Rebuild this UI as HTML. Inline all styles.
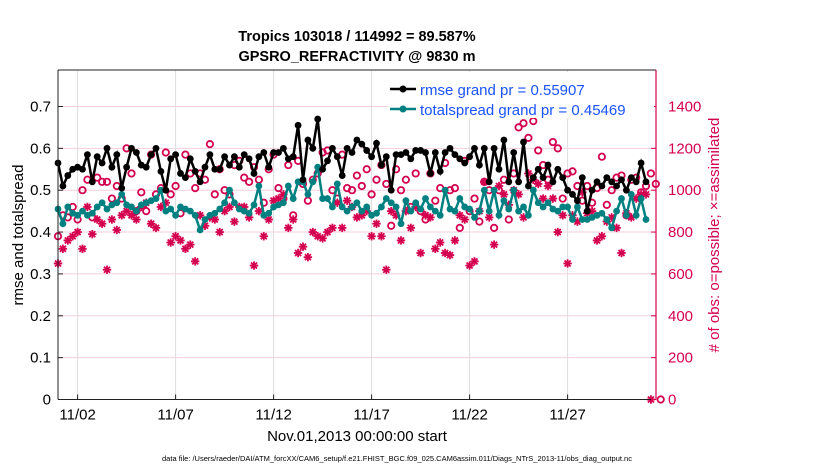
<!DOCTYPE html>
<html><head><meta charset="utf-8"><style>
body{margin:0;background:#fff;}
svg{display:block;font-family:"Liberation Sans",sans-serif;}
</style></head><body>
<svg id="chart" width="830" height="470" viewBox="0 0 830 470">
<text x="357" y="41" text-anchor="middle" font-size="14.5" font-weight="bold">Tropics 103018 / 114992 = 89.587%</text>
<text x="357" y="61" text-anchor="middle" font-size="14.5" font-weight="bold">GPSRO_REFRACTIVITY @ 9830 m</text>
<text transform="translate(23,235) rotate(-90)" text-anchor="middle" font-size="15">rmse and totalspread</text>
<text transform="translate(719,235) rotate(-90)" text-anchor="middle" font-size="15" fill="#d4004f"># of obs: o=possible; ×=assimilated</text>
<text x="357" y="441" text-anchor="middle" font-size="15">Nov.01,2013 00:00:00 start</text>
<text x="397" y="461" text-anchor="middle" font-size="7.5">data file: /Users/raeder/DAI/ATM_forcXX/CAM6_setup/f.e21.FHIST_BGC.f09_025.CAM6assim.011/Diags_NTrS_2013-11/obs_diag_output.nc</text>
<g id="grid"></g><g id="marks"></g><g id="axes"></g>
<g>
<rect x="388" y="72" width="266" height="46" fill="#fff"/>
<line x1="390" y1="89" x2="416" y2="89" stroke="#000" stroke-width="2.5"/><circle cx="403" cy="89" r="3.5" fill="#000"/>
<text x="420" y="95" font-size="15" fill="#1a53ff">rmse grand pr = 0.55907</text>
<line x1="390" y1="109" x2="416" y2="109" stroke="#008080" stroke-width="2.5"/><circle cx="403" cy="109" r="3.5" fill="#008080"/>
<text x="420" y="115" font-size="15" fill="#1a53ff">totalspread grand pr = 0.45469</text>
</g>
</svg>
<script>
const rmse=[0.565,0.51,0.535,0.55,0.555,0.55,0.585,0.52,0.58,0.565,
0.6,0.555,0.585,0.505,0.555,0.6,0.59,0.56,0.555,0.585,
0.6,0.545,0.5,0.575,0.585,0.54,0.53,0.575,0.545,0.52,
0.555,0.585,0.55,0.55,0.58,0.56,0.58,0.555,0.585,0.575,
0.54,0.58,0.59,0.555,0.59,0.59,0.6,0.575,0.58,0.655,
0.525,0.62,0.6,0.67,0.55,0.57,0.6,0.58,0.535,0.6,
0.59,0.62,
0.61,0.595,0.58,0.612,0.56,0.58,0.5,0.585,
0.585,0.59,0.575,0.595,0.595,0.59,0.54,0.59,0.545,0.59,
0.6,0.585,0.575,0.565,0.58,0.6,0.56,0.6,0.52,0.6,
0.55,0.62,0.52,0.59,0.52,0.615,0.51,0.53,0.55,0.53,
0.56,0.52,0.55,0.53,0.5,0.49,0.475,0.53,0.45,0.5,
0.52,0.51,0.53,0.52,0.51,0.525,0.5,0.53,0.52,0.565,0.52];
const spread=[0.455,0.42,0.46,0.445,0.44,0.45,0.44,0.445,0.46,0.47,
0.455,0.465,0.47,0.49,0.465,0.46,0.45,0.465,0.47,0.475,
0.48,0.5,0.45,0.455,0.44,0.46,0.455,0.45,0.44,0.405,
0.43,0.44,0.445,0.455,0.47,0.5,0.47,0.455,0.45,0.445,
0.465,0.51,0.44,0.445,0.46,0.465,0.47,0.51,0.48,0.52,
0.52,0.49,0.52,0.555,0.48,0.48,0.46,0.515,0.46,0.45,
0.46,0.47,
0.45,0.46,0.44,0.445,0.46,0.48,0.47,0.46,
0.42,0.475,0.45,0.47,0.455,0.48,0.46,0.45,0.44,0.5,
0.455,0.45,0.48,0.46,0.455,0.435,0.45,0.5,0.45,0.5,
0.44,0.475,0.455,0.5,0.45,0.46,0.44,0.5,0.47,0.46,
0.47,0.455,0.45,0.46,0.46,0.43,0.46,0.43,0.43,0.435,
0.44,0.445,0.43,0.41,0.45,0.48,0.44,0.49,0.44,0.48,0.43];
const possible=[780,880,870,920,860,1000,1050,870,1060,1040,
1040,960,1020,960,1200,1080,900,990,900,1170,
980,1010,1180,980,1020,890,1170,1080,1010,1080,
1050,1220,980,1100,1000,980,1120,1140,1060,1040,
1110,1050,940,1100,1170,1010,960,1120,880,1140,
1030,950,1050,1080,1180,1190,1000,960,1170,1010,
1000,1070,
1020,1100,980,1050,1120,1030,830,1100,
1000,1050,920,1080,900,860,1080,950,1010,1130,1000,1010,
820,1140,900,960,850,1040,1000,820,1000,1050,
860,1080,1300,1320,1250,1330,1190,1120,1050,1230,
1200,960,1080,1090,1020,950,1020,940,1010,1160,
930,1000,1060,1070,880,1050,1060,990,1020,1080,1030,0];
const assimilated=[650,720,760,780,800,720,920,790,860,840,
620,860,810,880,900,880,860,920,940,840,
820,920,940,750,780,760,720,740,660,880,
830,870,860,800,900,920,850,920,920,870,
640,900,780,860,950,960,980,820,860,700,
730,680,800,780,770,800,820,940,820,950,
920,870,
880,900,780,840,780,620,900,880,
760,900,820,920,700,880,870,720,750,700,
690,760,880,860,640,660,900,1040,870,740,
1020,980,930,1000,980,870,1080,1050,1030,960,
1020,960,800,880,650,880,850,990,890,900,
760,780,850,870,820,700,890,870,960,980,980,0];
const leftTicks=[0,0.1,0.2,0.3,0.4,0.5,0.6,0.7];
const rightTicks=[0,200,400,600,800,1000,1200,1400];
const dayTicks=[2,7,12,17,22,27];
const dayLabels=["11/02","11/07","11/12","11/17","11/22","11/27"];

const NS="http://www.w3.org/2000/svg";
const L=58,R=656,T=70,B=399.5;
const xi=i=>L+i*4.9;
const yl=v=>B-v*418.6;
const yr=v=>B-v/2000*418.6;
function mk(tag,attrs,parent){const e=document.createElementNS(NS,tag);for(const k in attrs)e.setAttribute(k,attrs[k]);parent.appendChild(e);return e;}
const grid=document.getElementById('grid'),marks=document.getElementById('marks'),axes=document.getElementById('axes');

rightTicks.forEach(v=>{if(v>0){const g=mk('line',{x1:L,x2:R,y1:yr(v),y2:yr(v),stroke:'#f5cfdc','stroke-width':1},grid);

}});
dayTicks.forEach((d,k)=>{const x=xi((d-1)*4);
const g=mk('line',{x1:x,x2:x,y1:T,y2:B,stroke:'#dcdcdc','stroke-width':1},grid);


mk('line',{x1:x,x2:x,y1:B,y2:B-5,stroke:'#222'},axes);
const t=mk('text',{x:x,y:B+20,'text-anchor':'middle','font-size':15},axes);t.textContent=dayLabels[k];

});

assimilated.forEach((v,i)=>{const x=xi(i),y=yr(v);const g=mk('g',{stroke:'#d4004f','stroke-width':1.8},marks);


mk('line',{x1:x-4.2,x2:x+4.2,y1:y,y2:y},g);mk('line',{x1:x,x2:x,y1:y-4.2,y2:y+4.2},g);
mk('line',{x1:x-3,x2:x+3,y1:y-3,y2:y+3},g);mk('line',{x1:x-3,x2:x+3,y1:y+3,y2:y-3},g);});
possible.forEach((v,i)=>{const c=mk('circle',{cx:xi(i),cy:yr(v),r:3.2,fill:'none',stroke:'#d4004f','stroke-width':1.8},marks);

});
const sp=mk('polyline',{points:spread.map((v,i)=>xi(i)+','+yl(v)).join(' '),fill:'none',stroke:'#008080','stroke-width':2.5},marks);


spread.forEach((v,i)=>{const c=mk('circle',{cx:xi(i),cy:yl(v),r:3.4,fill:'#008080'},marks);

});
const rm=mk('polyline',{points:rmse.map((v,i)=>xi(i)+','+yl(v)).join(' '),fill:'none',stroke:'#000','stroke-width':2.5},marks);


rmse.forEach((v,i)=>{const c=mk('circle',{cx:xi(i),cy:yl(v),r:3.4,fill:'#000'},marks);

});

mk('line',{x1:L,x2:L,y1:T,y2:B,stroke:'#222'},axes);
mk('line',{x1:L,x2:R,y1:B,y2:B,stroke:'#222'},axes);
mk('line',{x1:L,x2:R,y1:T,y2:T,stroke:'#222'},axes);
mk('line',{x1:R,x2:R,y1:T,y2:B,stroke:'#d4004f','stroke-width':1.2},axes);
leftTicks.forEach(v=>{const y=yl(v);mk('line',{x1:L,x2:L+5,y1:y,y2:y,stroke:'#222'},axes);
const t=mk('text',{x:L-7,y:y+5,'text-anchor':'end','font-size':15},axes);t.textContent=v===0?'0':v.toFixed(1);

});
rightTicks.forEach(v=>{const y=yr(v);mk('line',{x1:R,x2:R-5,y1:y,y2:y,stroke:'#d4004f'},axes);
const t=mk('text',{x:R+12,y:y+5,'font-size':15,fill:'#d4004f'},axes);t.textContent=v;

});
</script>
</body></html>
